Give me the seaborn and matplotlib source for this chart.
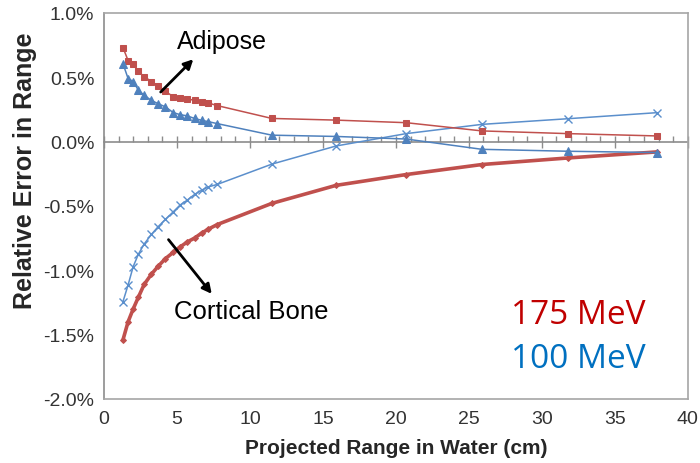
import matplotlib
matplotlib.use("Agg")
import matplotlib.pyplot as plt
from matplotlib.ticker import MultipleLocator, FuncFormatter
import seaborn as sns

# projected range in water (cm)
depth = [1.3, 1.65, 2.0, 2.35, 2.75, 3.25, 3.7, 4.2, 4.75, 5.2, 5.7, 6.2, 6.7, 7.15, 7.75,
         11.5, 15.9, 20.7, 25.9, 31.8, 37.9]

# relative error in range (%)
adipose_175 = [0.73, 0.63, 0.60, 0.545, 0.505, 0.467, 0.435, 0.39, 0.35, 0.34, 0.333, 0.32, 0.31, 0.30, 0.28,
               0.18, 0.167, 0.147, 0.083, 0.062, 0.044]
adipose_100 = [0.605, 0.49, 0.467, 0.40, 0.36, 0.32, 0.295, 0.27, 0.225, 0.21, 0.20, 0.18, 0.165, 0.155, 0.14,
               0.05, 0.04, 0.02, -0.06, -0.075, -0.085]
bone_175 = [-1.54, -1.40, -1.30, -1.21, -1.11, -1.03, -0.97, -0.91, -0.86, -0.82, -0.78, -0.75, -0.71, -0.68, -0.645,
            -0.48, -0.34, -0.256, -0.178, -0.127, -0.08]
bone_100 = [-1.243, -1.114, -0.971, -0.876, -0.796, -0.721, -0.662, -0.605, -0.545, -0.494, -0.455, -0.411, -0.377,
            -0.352, -0.333, -0.175, -0.034, 0.062, 0.134, 0.178, 0.225]

red = "#C0504D"
blue = "#4F81BD"
axis_gray = "#8C8C8C"

sns.set_style("white")
plt.rcParams["font.family"] = ["Liberation Sans", "DejaVu Sans"]

fig = plt.figure(figsize=(7, 4.64), dpi=100)
ax = fig.add_axes([0.1486, 0.138, 0.834, 0.832])

sns.lineplot(x=depth, y=bone_175, color=red, linewidth=2.6, marker="D", markersize=3,
             markeredgecolor=red, ax=ax)
sns.lineplot(x=depth, y=bone_100, color="#5B8FCC", linewidth=1.1, marker="x", markersize=6,
             markeredgecolor="#5B8FCC", markeredgewidth=1.0, ax=ax)
sns.lineplot(x=depth, y=adipose_175, color=red, linewidth=1.1, marker="s", markersize=5,
             markeredgecolor=red, ax=ax)
sns.lineplot(x=depth, y=adipose_100, color=blue, linewidth=1.1, marker="^", markersize=5.5,
             markeredgecolor=blue, ax=ax)

ax.set_xlim(0, 40)
ax.set_ylim(-2.0, 1.0)

# y axis
ax.yaxis.set_major_locator(MultipleLocator(0.5))
ax.yaxis.set_minor_locator(MultipleLocator(0.1))
ax.yaxis.set_major_formatter(FuncFormatter(lambda v, p: f"{v:.1f}%"))
ax.tick_params(axis="y", which="major", direction="out", length=5, width=1, color=axis_gray,
               labelsize=14, labelcolor="#333333", pad=2)
ax.tick_params(axis="y", which="minor", direction="in", length=4, width=1, color=axis_gray)

# x labels at the bottom, no ticks there
ax.xaxis.set_major_locator(MultipleLocator(5))
ax.tick_params(axis="x", which="both", length=0, labelsize=14, labelcolor="#333333", pad=8)

# horizontal axis line crossing at 0%
sec = ax.secondary_xaxis(2 / 3)
sec.xaxis.set_major_locator(MultipleLocator(5))
sec.xaxis.set_minor_locator(MultipleLocator(1))
sec.tick_params(axis="x", which="both", labeltop=False, labelbottom=False)
sec.tick_params(axis="x", which="major", direction="inout", length=9, width=1, color=axis_gray)
sec.tick_params(axis="x", which="minor", direction="out", length=4, width=1, color=axis_gray)
for side in ("top", "bottom"):
    sec.spines[side].set_color(axis_gray)
    sec.spines[side].set_linewidth(1.2)

for s in ax.spines.values():
    s.set_color("#A6A6A6")
    s.set_linewidth(1.2)
ax.spines["left"].set_color(axis_gray)

ax.set_xlabel("Projected Range in Water (cm)", fontsize=15, fontweight="bold")
ax.set_ylabel("Relative Error in Range", fontsize=18, fontweight="bold")
ax.xaxis.set_label_coords(0.5, -0.1)
ax.yaxis.set_label_coords(-0.115, 0.595)

# annotations
ax.text(8.1, 0.78, "Adipose", fontsize=18, ha="center", va="center", color="black")
ax.annotate("", xy=(6.25, 0.655), xytext=(3.75, 0.37),
            arrowprops=dict(arrowstyle="-|>,head_length=0.55,head_width=0.28", color="black", lw=2))
ax.text(10.1, -1.32, "Cortical Bone", fontsize=18.5, ha="center", va="center", color="black")
ax.annotate("", xy=(7.5, -1.2), xytext=(4.3, -0.745),
            arrowprops=dict(arrowstyle="-|>,head_length=0.55,head_width=0.28", color="black", lw=2))

ax.text(27.9, -1.41, "175 MeV", fontsize=24, color="#C00000", ha="left", va="baseline",
        family=["Open Sans", "DejaVu Sans"])
ax.text(27.9, -1.755, "100 MeV", fontsize=24, color="#0070C0", ha="left", va="baseline",
        family=["Open Sans", "DejaVu Sans"])

fig.savefig("out.png", dpi=100)
